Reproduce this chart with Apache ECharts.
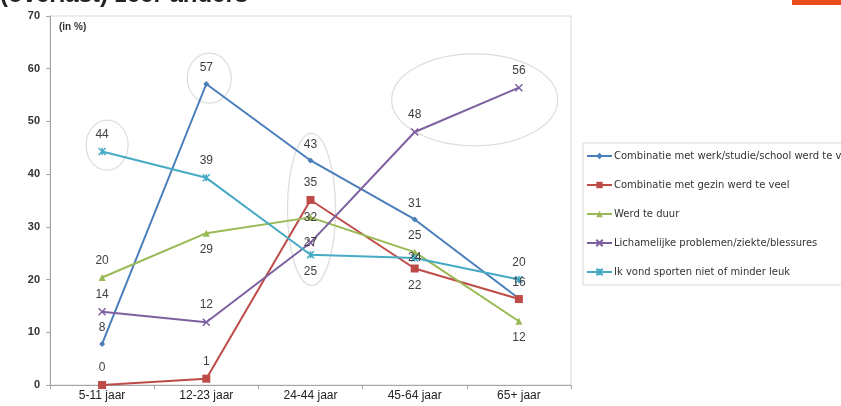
<!DOCTYPE html>
<html>
<head>
<meta charset="utf-8">
<script src="https://cdn.jsdelivr.net/npm/echarts@6/dist/echarts.min.js"></script>
<style>
html,body{margin:0;padding:0;background:#fff;}
#c{width:841px;height:406px;}
</style>
</head>
<body>
<div id="c"></div>
<script>
// ---- data ----
const categories = ['5-11 jaar', '12-23 jaar', '24-44 jaar', '45-64 jaar', '65+ jaar'];
const seriesNames = [
  'Combinatie met werk/studie/school werd te veel',
  'Combinatie met gezin werd te veel',
  'Werd te duur',
  'Lichamelijke problemen/ziekte/blessures',
  'Ik vond sporten niet of minder leuk'
];
const werkStudie = [7.8, 57.1, 42.6, 31.4, 16.4];
const gezin = [0, 1.2, 35.1, 22.1, 16.3];
const teDuur = [20.4, 28.8, 31.8, 25.2, 12.1];
const lichamelijk = [13.9, 11.9, 27.0, 48.0, 56.4];
const nietLeuk = [44.3, 39.3, 24.7, 24.1, 20.0];
const yTicks = [0, 70, 10]; // min, max, interval

// ---- styling (not data) ----
const colors = ['#4a7ebb', '#be4b48', '#98b954', '#7d60a0', '#46aac5'];
const symbols = ['diamond', 'rect', 'triangle', 'path://M0,0 L10,10 M10,0 L0,10', 'path://M0,0 L10,10 M10,0 L0,10 M5,0 L5,10'];
const symbolSizes = [6, 8, 7, 7, 7];
// label placement per point: 't' top, 'b' bottom, 'c' centre, '' hidden
const labelPlace = [
  ['t', 't', 't', 't', 't'],
  ['t', 't', 't', 'b', ''],
  ['t', 'b', 'c', 't', 'b'],
  ['t', 't', 'c', 't', 't'],
  ['t', 't', 'b', 'c', 't']
];
const allData = [werkStudie, gezin, teDuur, lichamelijk, nietLeuk];

const chart = echarts.init(document.getElementById('c'), null, {renderer: 'canvas'});

function makeSeries(i) {
  const data = allData[i].map((v, j) => {
    const p = labelPlace[i][j];
    const lab = {show: p !== ''};
    if (p === 't') { lab.position = 'top'; }
    if (p === 'b') { lab.position = 'bottom'; }
    if (p === 'c') { lab.position = 'inside'; }
    return {value: v, label: lab};
  });
  const isPath = symbols[i].indexOf('path://') === 0;
  return {
    name: seriesNames[i],
    type: 'line',
    data: data,
    symbol: symbols[i],
    symbolSize: symbolSizes[i],
    showAllSymbol: true,
    lineStyle: {color: colors[i], width: 2},
    itemStyle: isPath ? {color: 'transparent', borderColor: colors[i], borderWidth: 1.5} : {color: colors[i]},
    label: {
      show: true,
      distance: 7,
      color: '#404040',
      fontSize: 12,
      fontFamily: 'Liberation Sans, Arial, sans-serif',
      formatter: (p) => Math.round(p.value)
    },
    emphasis: {disabled: true},
    animation: false,
    z: 3
  };
}

const option = {
  animation: false,
  color: colors,
  grid: {left: 50, right: 270, top: 16, bottom: 21, show: true, borderColor: '#d9d9d9', borderWidth: 1},
  xAxis: {
    type: 'category',
    data: categories,
    boundaryGap: true,
    axisLine: {lineStyle: {color: '#a6a6a6', width: 1}},
    axisTick: {show: true, length: 4, lineStyle: {color: '#a6a6a6'}},
    axisLabel: {color: '#222', fontSize: 12, fontFamily: 'Liberation Sans Narrow, Arial Narrow, Liberation Sans, sans-serif', margin: 5}
  },
  yAxis: {
    type: 'value',
    min: yTicks[0], max: yTicks[1], interval: yTicks[2],
    axisLine: {show: true, lineStyle: {color: '#a6a6a6', width: 1}},
    axisTick: {show: true, length: 4, lineStyle: {color: '#a6a6a6'}},
    splitLine: {show: false},
    axisLabel: {color: '#333', fontSize: 11, fontWeight: 'bold', fontFamily: 'Liberation Sans, Arial, sans-serif', margin: 10}
  },
  legend: {
    orient: 'vertical',
    left: 583,
    top: 143,
    itemWidth: 25,
    itemHeight: 8,
    itemGap: 19,
    padding: [8, 6, 8, 3],
    borderColor: '#d9d9d9',
    borderWidth: 1,
    data: seriesNames,
    textStyle: {fontSize: 10, color: '#333', fontFamily: 'DejaVu Sans, Verdana, sans-serif', padding: [0, 0, 0, -3]}
  },
  series: [0, 1, 2, 3, 4].map(makeSeries)
};
chart.setOption(option);

// annotation ellipses: anchored at category index + pixel offset, value on y
const ellipses = [
  {cat: 0, dx: 5, val: 45.5, rx: 21, ry: 25},
  {cat: 1, dx: 3, val: 58.2, rx: 22, ry: 25},
  {cat: 2, dx: 1, val: 33.3, rx: 24, ry: 76},
  {cat: 3, dx: 60, val: 54.1, rx: 83, ry: 46}
];
const gfx = ellipses.map(e => {
  const pt = chart.convertToPixel({gridIndex: 0}, [e.cat, e.val]);
  return {
    type: 'ellipse',
    shape: {cx: pt[0] + e.dx, cy: pt[1], rx: e.rx, ry: e.ry},
    style: {fill: 'none', stroke: '#dcdcdc', lineWidth: 1.2},
    z: 1, silent: true
  };
});
gfx.push({
  type: 'text', left: 59, top: 22,
  style: {text: '(in %)', fill: '#333', font: 'bold 10px Liberation Sans, Arial, sans-serif'}
});
gfx.push({
  type: 'text', left: 0, top: -17,
  style: {text: '(overlast) zeer anders', fill: '#222', font: 'bold 24px Liberation Sans, Arial, sans-serif'}
});
gfx.push({
  type: 'rect', left: 792, top: 0,
  shape: {width: 49, height: 5},
  style: {fill: '#e84c1c'}
});
chart.setOption({graphic: gfx});
</script>
</body>
</html>
